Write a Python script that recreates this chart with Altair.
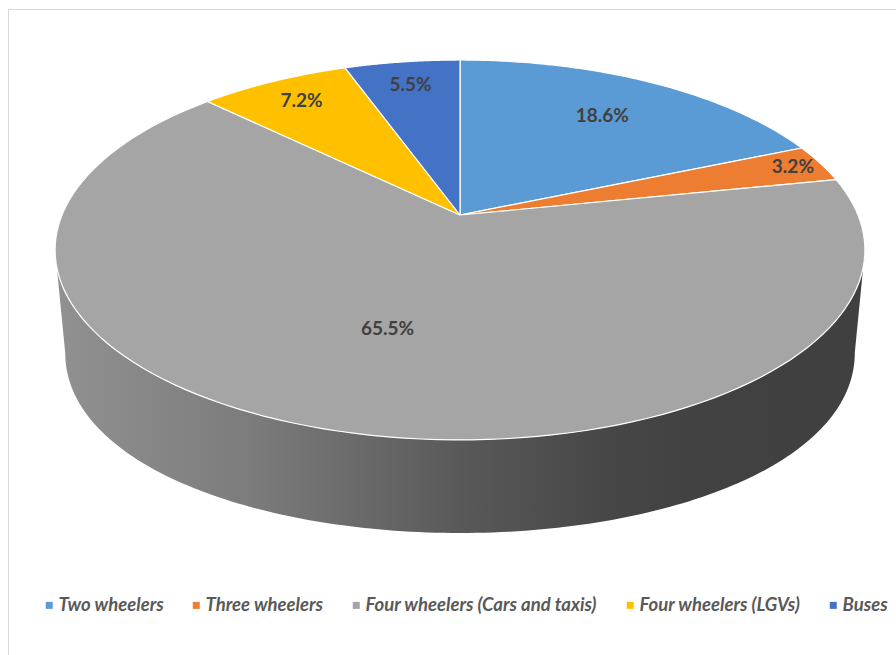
import altair as alt
import pandas as pd

# ---- data ----
categories = ["Two wheelers", "Three wheelers", "Four wheelers (Cars and taxis)",
              "Four wheelers (LGVs)", "Buses"]
shares = [18.6, 3.2, 65.5, 7.2, 5.5]
colors = ["#5B9BD5", "#ED7D31", "#A5A5A5", "#FFC000", "#4472C4"]

# ---- geometry of the tilted (3-D look) pie, in page pixels ----
CX, CY = 460, 215        # pie centre
RX, RY = 398, 183.5      # radii of the top face
P = 0.184                # perspective strength
H, E, S = 76, 25, 0.975  # thickness, extra drop at the sides, bottom shrink
N = 120                  # arc steps per slice
M = 160                  # steps along the side wall

slice_rows = []
for j, (c, v) in enumerate(zip(categories, shares)):
    for i in range(N + 3):
        slice_rows.append({"cat": c, "value": v, "idx": j, "i": i})
slices_df = pd.DataFrame(slice_rows)
labels_df = pd.DataFrame({"cat": categories, "value": shares, "idx": list(range(len(categories)))})
side_df = pd.DataFrame({"i": list(range(2 * M + 2))})
frame_df = pd.DataFrame({"a": [0]})

xs = alt.Scale(domain=[0, 896], nice=False, zero=False)
ys = alt.Scale(domain=[0, 655], nice=False, zero=False, reverse=True)

# ---- side wall (front of the big slice) ----
side = (
    alt.Chart(side_df)
    .transform_calculate(top=f"datum.i <= {M} ? 1 : 0")
    .transform_calculate(s=f"datum.i <= {M} ? datum.i / {M} : (2 * {M} + 1 - datum.i) / {M}")
    .transform_calculate(ta=f"acos(-{P})")
    .transform_calculate(t="datum.ta + (2 * PI - 2 * datum.ta) * datum.s")
    .transform_calculate(u="sin(datum.t)")
    .transform_calculate(v="-cos(datum.t)")
    .transform_calculate(k=f"1 / (1 - {P} * datum.v)")
    .transform_calculate(px=f"{CX} + {RX} * datum.u * datum.k * (datum.top == 1 ? 1 : {S})")
    .transform_calculate(py=f"{CY} + {RY} * datum.v * datum.k + (datum.top == 1 ? 0 : {H} * datum.k + {E} * (1 - datum.v * datum.v))")
    .mark_line(
        filled=True,
        fill=alt.LinearGradient(
            gradient="linear",
            x1=0, x2=1, y1=0, y2=0,
            stops=[
                alt.GradientStop(color="#919191", offset=0),
                alt.GradientStop(color="#7c7c7c", offset=0.24),
                alt.GradientStop(color="#595959", offset=0.5),
                alt.GradientStop(color="#464646", offset=0.69),
                alt.GradientStop(color="#414141", offset=0.8),
                alt.GradientStop(color="#404040", offset=1),
            ],
        ),
    )
    .encode(
        x=alt.X("px:Q", scale=xs, axis=None),
        y=alt.Y("py:Q", scale=ys, axis=None),
        order=alt.Order("i:Q"),
    )
)

# ---- top face slices ----
top = (
    alt.Chart(slices_df)
    .transform_window(end="sum(value)", sort=[alt.SortField("idx")], groupby=["i"])
    .transform_joinaggregate(total="sum(value)", groupby=["i"])
    .transform_calculate(t0="2 * PI * (datum.end - datum.value) / datum.total")
    .transform_calculate(t1="2 * PI * datum.end / datum.total")
    .transform_calculate(r=f"(datum.i == 0 || datum.i == {N + 2}) ? 0 : 1")
    .transform_calculate(t=f"datum.t0 + (datum.t1 - datum.t0) * (datum.i - 1) / {N}")
    .transform_calculate(u="datum.r * sin(datum.t)")
    .transform_calculate(v="-datum.r * cos(datum.t)")
    .transform_calculate(k=f"1 / (1 - {P} * datum.v)")
    .transform_calculate(px=f"{CX} + {RX} * datum.u * datum.k")
    .transform_calculate(py=f"{CY} + {RY} * datum.v * datum.k")
    .mark_line(filled=True, stroke="#ffffff", strokeWidth=1.2, strokeJoin="round")
    .encode(
        x=alt.X("px:Q", scale=xs, axis=None),
        y=alt.Y("py:Q", scale=ys, axis=None),
        order=alt.Order("i:Q"),
        fill=alt.Fill(
            "cat:N",
            scale=alt.Scale(domain=categories, range=colors),
            sort=categories,
            legend=alt.Legend(
                title=None,
                orient="none",
                legendX=40,
                legendY=596,
                direction="horizontal",
                symbolType="square",
                symbolSize=49,
                symbolStrokeWidth=0,
                labelFont="Lato",
                labelFontSize=18.5,
                labelFontStyle="italic",
                labelFontWeight="bold",
                labelColor="#595959",
                labelOffset=0,
                labelLimit=400,
                columnPadding=23,
                padding=0,
            ),
        ),
    )
)

# ---- percentage labels ----
labels = (
    alt.Chart(labels_df)
    .transform_window(end="sum(value)", sort=[alt.SortField("idx")])
    .transform_joinaggregate(total="sum(value)")
    .transform_calculate(tm="2 * PI * (datum.end - datum.value / 2) / datum.total")
    .transform_calculate(r="datum.value > 50 ? 0.58 : datum.value < 5 ? 0.92 : datum.value < 10 ? 0.83 : 0.72")
    .transform_calculate(u="datum.r * sin(datum.tm)")
    .transform_calculate(v="-datum.r * cos(datum.tm)")
    .transform_calculate(k=f"1 / (1 - {P} * datum.v)")
    .transform_calculate(px=f"{CX} + {RX} * datum.u * datum.k")
    .transform_calculate(py=f"{CY} + {RY} * datum.v * datum.k")
    .transform_calculate(label="format(datum.value, '.1f') + '%'")
    .mark_text(font="Lato", fontSize=19, fontWeight="bold", color="#404040", baseline="middle", align="center")
    .encode(
        x=alt.X("px:Q", scale=xs, axis=None),
        y=alt.Y("py:Q", scale=ys, axis=None),
        text="label:N",
    )
)

# ---- chart border (left and top edges visible) ----
border_left = alt.Chart(frame_df).mark_rule(color="#d9d9d9", strokeWidth=1).encode(
    x=alt.value(8.5), y=alt.value(9), y2=alt.value(655))
border_top = alt.Chart(frame_df).mark_rule(color="#d9d9d9", strokeWidth=1).encode(
    x=alt.value(8.5), x2=alt.value(896), y=alt.value(9.5))

chart = (
    alt.layer(side, top, labels, border_left, border_top)
    .properties(width=896, height=655, padding=0, autosize=alt.AutoSizeParams(type="none"),
                background="#ffffff")
    .configure_view(strokeWidth=0)
)

chart.save("out.html", embed_options={"renderer": "svg", "actions": False})
